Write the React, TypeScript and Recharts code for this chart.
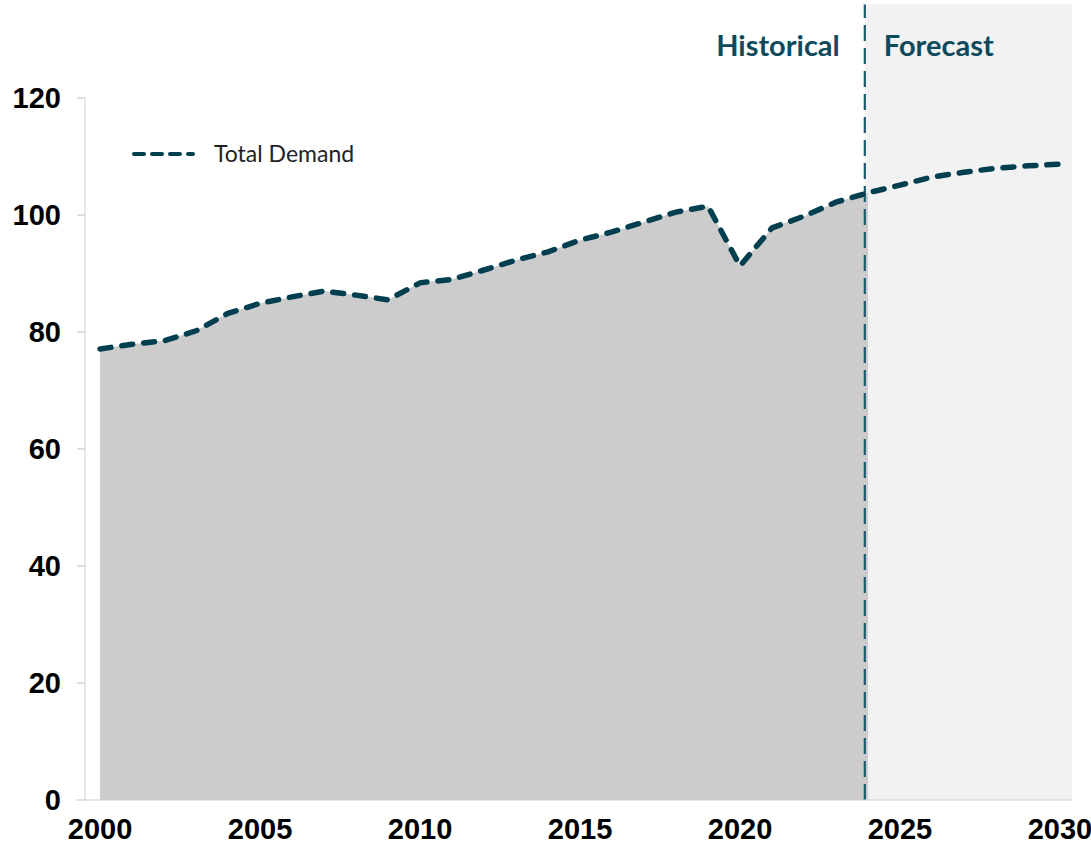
import React from 'react';
import {
  ComposedChart,
  Area,
  Line,
  XAxis,
  YAxis,
  ReferenceArea,
  ReferenceLine,
} from 'recharts';

// values
const YEARS = [
  2000, 2001, 2002, 2003, 2004, 2005, 2006, 2007, 2008, 2009, 2010,
  2011, 2012, 2013, 2014, 2015, 2016, 2017, 2018, 2019, 2020,
  2021, 2022, 2023, 2024, 2025, 2026, 2027, 2028, 2029, 2030,
];
const TOTAL_DEMAND = [
  77.1, 77.9, 78.5, 80.2, 83.2, 84.9, 86.0, 87.0, 86.3, 85.5, 88.4,
  89.0, 90.6, 92.3, 93.7, 95.7, 97.1, 98.8, 100.5, 101.5, 91.3,
  97.8, 99.8, 102.2, 103.8, 105.1, 106.5, 107.3, 108.0, 108.4, 108.7,
];
const LAST_HISTORICAL = 2024;
const X_TICKS = [2000, 2005, 2010, 2015, 2020, 2025, 2030];
const Y_TICKS = [0, 20, 40, 60, 80, 100, 120];

const data = YEARS.map((year, i) => ({
  year,
  demand: TOTAL_DEMAND[i],
  historical: year <= LAST_HISTORICAL ? TOTAL_DEMAND[i] : null,
}));

const LINE_COLOR = '#003f50';
const TEAL = '#0e4a5c';
const TICK_FONT = '"Liberation Sans", Arial, sans-serif';
const LABEL_FONT = 'Lato, "Open Sans", sans-serif';

const SplitLabels = (props: any) => {
  const { viewBox } = props;
  if (!viewBox) return null;
  const x = viewBox.x;
  return (
    <g fontFamily={LABEL_FONT} fontWeight="bold" fontSize={29} fill={TEAL}>
      <text x={x - 25} y={56} textAnchor="end">Historical</text>
      <text x={x + 19} y={56} textAnchor="start">Forecast</text>
    </g>
  );
};

// legend drawn on top of the chart so it takes no room from the plot
const LegendBox = () => (
  <svg width={280} height={30} style={{ position: 'absolute', left: 129, top: 139 }}>
    <line x1={5} y1={15} x2={64} y2={15} stroke={LINE_COLOR} strokeWidth={4}
      strokeDasharray="10 8" strokeLinecap="round" />
    <text x={85} y={23} fontFamily={LABEL_FONT} fontSize={23} fill="#222">Total Demand</text>
  </svg>
);

export default function App() {
  return (
    <div style={{ position: 'absolute', left: 0, top: 0, width: 1091, height: 851, background: '#fff' }}>
      <ComposedChart
        width={1091}
        height={851}
        data={data}
        margin={{ top: 98, right: 19, bottom: 0, left: 0 }}
      >
        <XAxis
          dataKey="year"
          type="number"
          domain={[1999.53, 2030.375]}
          allowDataOverflow
          ticks={X_TICKS}
          height={51}
          tickLine={false}
          axisLine={{ stroke: '#d0d0d0' }}
          tick={{ fill: '#000', fontSize: 29, fontWeight: 'bold', fontFamily: TICK_FONT }}
          tickMargin={12}
        />
        <YAxis
          domain={[0, 120]}
          ticks={Y_TICKS}
          width={85}
          tickSize={8}
          tickLine={{ stroke: '#bfbfbf' }}
          axisLine={{ stroke: '#d0d0d0' }}
          tick={{ fill: '#000', fontSize: 29, fontWeight: 'bold', fontFamily: TICK_FONT }}
          tickMargin={16}
        />
        <ReferenceArea
          x1={2023.9}
          x2={2030.375}
          y1={0}
          y2={136}
          ifOverflow="visible"
          fill="#f2f2f2"
          fillOpacity={1}
          stroke="none"
          label={<SplitLabels />}
        />
        <Area
          type="linear"
          dataKey="historical"
          fill="#cccccc"
          fillOpacity={1}
          stroke="none"
          isAnimationActive={false}
          legendType="none"
        />
        <ReferenceLine
          segment={[{ x: 2023.9, y: 0 }, { x: 2023.9, y: 136 }]}
          ifOverflow="visible"
          stroke="#1a5a6e"
          strokeWidth={2.2}
          strokeDasharray="16 7"
        />
        <Line
          type="linear"
          dataKey="demand"
          name="Total Demand"
          stroke={LINE_COLOR}
          strokeWidth={5.5}
          strokeDasharray="11 11"
          strokeLinecap="round"
          dot={false}
          activeDot={false}
          isAnimationActive={false}
        />
      </ComposedChart>
      <LegendBox />
    </div>
  );
}
